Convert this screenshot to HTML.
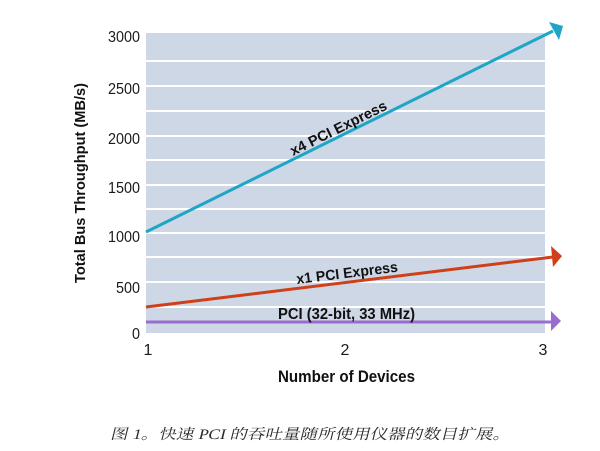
<!DOCTYPE html>
<html><head><meta charset="utf-8"><style>
html,body{margin:0;padding:0;background:#fff;}
svg{display:block;}
</style></head><body>
<svg width="600" height="451" viewBox="0 0 600 451" xmlns="http://www.w3.org/2000/svg">
<rect x="146" y="33" width="399" height="300" fill="#cdd7e5"/>
<g stroke="#ffffff" stroke-width="2">
<line x1="146" y1="61" x2="545" y2="61"/>
<line x1="146" y1="86" x2="545" y2="86"/>
<line x1="146" y1="111" x2="545" y2="111"/>
<line x1="146" y1="136" x2="545" y2="136"/>
<line x1="146" y1="160" x2="545" y2="160"/>
<line x1="146" y1="185" x2="545" y2="185"/>
<line x1="146" y1="209" x2="545" y2="209"/>
<line x1="146" y1="233" x2="545" y2="233"/>
<line x1="146" y1="257" x2="545" y2="257"/>
<line x1="146" y1="282" x2="545" y2="282"/>
<line x1="146" y1="307" x2="545" y2="307"/>
</g>
<!-- series -->
<line x1="146" y1="232" x2="553" y2="31" stroke="#1fa6c6" stroke-width="3"/>
<polygon points="563,26 549,22 559,40" fill="#1fa6c6"/>
<line x1="146" y1="307" x2="553" y2="257" stroke="#cf3f1a" stroke-width="3"/>
<polygon points="562,256 551,246 553,267" fill="#cf3f1a"/>
<line x1="146" y1="322" x2="552" y2="322" stroke="#9a6ccf" stroke-width="3"/>
<polygon points="561,321 551,311 551,331" fill="#9a6ccf"/>
<!-- y tick labels -->
<g font-family="Liberation Sans, Arial, sans-serif" font-size="16" fill="#1a1a1a" text-anchor="end">
<text x="140" y="42" textLength="32" lengthAdjust="spacingAndGlyphs">3000</text>
<text x="140" y="94" textLength="32" lengthAdjust="spacingAndGlyphs">2500</text>
<text x="140" y="144" textLength="32" lengthAdjust="spacingAndGlyphs">2000</text>
<text x="140" y="193" textLength="32" lengthAdjust="spacingAndGlyphs">1500</text>
<text x="140" y="242" textLength="32" lengthAdjust="spacingAndGlyphs">1000</text>
<text x="140" y="293" textLength="24" lengthAdjust="spacingAndGlyphs">500</text>
<text x="140" y="339" textLength="8" lengthAdjust="spacingAndGlyphs">0</text>
</g>
<g font-family="Liberation Sans, Arial, sans-serif" font-size="16" fill="#1a1a1a" text-anchor="middle">
<text x="148" y="355">1</text>
<text x="345" y="355">2</text>
<text x="543" y="355">3</text>
</g>
<!-- axis titles -->
<text x="278" y="382" font-family="Liberation Sans, Arial, sans-serif" font-size="17" font-weight="bold" fill="#111" textLength="137" lengthAdjust="spacingAndGlyphs">Number of Devices</text>
<text transform="translate(85,283) rotate(-90)" x="0" y="0" font-family="Liberation Sans, Arial, sans-serif" font-size="14.5" font-weight="bold" fill="#111" textLength="200" lengthAdjust="spacingAndGlyphs">Total Bus Throughput (MB/s)</text>
<!-- series labels -->
<text transform="translate(293,156) rotate(-26.3)" x="0" y="0" font-family="Liberation Sans, Arial, sans-serif" font-size="14.5" font-weight="bold" fill="#111" textLength="106" lengthAdjust="spacingAndGlyphs">x4 PCI Express</text>
<text transform="translate(297,284) rotate(-7)" x="0" y="0" font-family="Liberation Sans, Arial, sans-serif" font-size="14.5" font-weight="bold" fill="#111" textLength="102" lengthAdjust="spacingAndGlyphs">x1 PCI Express</text>
<text x="278" y="319" font-family="Liberation Sans, Arial, sans-serif" font-size="15.5" font-weight="bold" fill="#111" textLength="137" lengthAdjust="spacingAndGlyphs">PCI (32-bit, 33 MHz)</text>
<!-- caption -->
<text transform="translate(110,439) skewX(-14)" x="0" y="0" font-family="Liberation Serif, Noto Serif CJK SC, Noto Sans CJK SC, serif" font-size="14.5" fill="#2a2a2a" textLength="400" lengthAdjust="spacingAndGlyphs">图 1。快速 PCI 的吞吐量随所使用仪器的数目扩展。</text>
</svg>
</body></html>
